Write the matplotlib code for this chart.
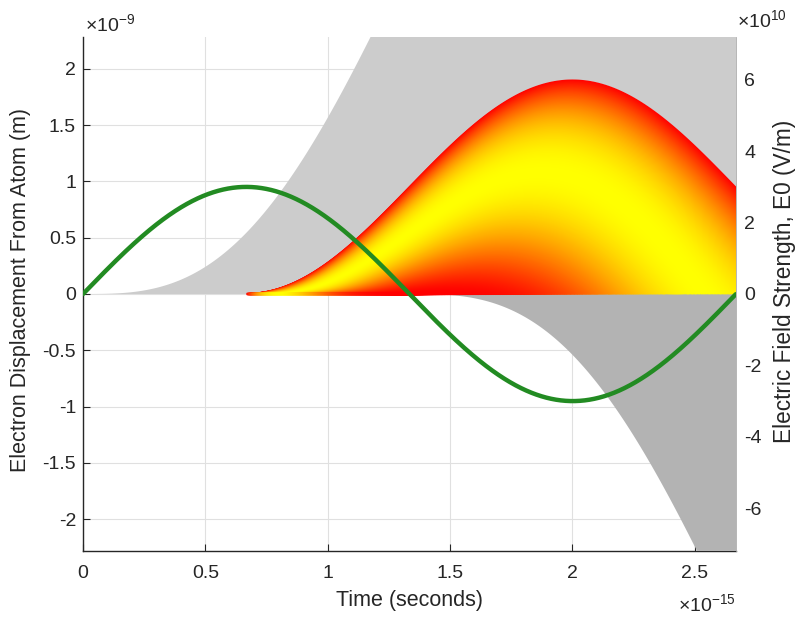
import numpy as np
import matplotlib
matplotlib.use("Agg")
import matplotlib.pyplot as plt
from matplotlib.collections import LineCollection
from matplotlib.ticker import FuncFormatter

plt.rcParams['font.family'] = ['Liberation Sans', 'DejaVu Sans']
plt.rcParams['mathtext.fontset'] = 'custom'
plt.rcParams['mathtext.rm'] = 'Liberation Sans'
plt.rcParams['axes.unicode_minus'] = False

# laser / electron parameters
wavelength = 800e-9      # m
E0 = 3e10                # V/m
q = 1.602e-19
me = 9.109e-31
c = 2.998e8

omega = 2*np.pi*c/wavelength
T = 2*np.pi/omega
A = q*E0/(me*omega**2)   # quiver amplitude

xticks = [0, 0.5e-15, 1e-15, 1.5e-15, 2e-15, 2.5e-15]
yticks_left = np.arange(-2, 2.01, 0.5)*1e-9
yticks_right = np.arange(-6, 6.01, 2)*1e10

t = np.linspace(0, 2*T, 6001)
dt = t[1] - t[0]


def path(t0):
    # classical electron trajectory, born at rest at time t0
    x = A*(np.sin(omega*t0) - np.sin(omega*t) + omega*(t - t0)*np.cos(omega*t0))
    x[t < t0] = np.nan
    return x


def speed(t0, tt):
    return A*omega*(np.cos(omega*t0) - np.cos(omega*tt))


TXT = '#262626'
fig = plt.figure(figsize=(7.96, 6.19), dpi=100)
ax = fig.add_axes([83/796, 1-551/619, 653/796, 514/619])
ax.set_axisbelow(True)

# electrons that never come back
lo = np.where(t < T/4, 0, path(T/4))
ax.fill_between(t, lo, path(0), color='#cccccc', lw=0, zorder=3)
x_half = path(T/2)
ax.fill_between(t, x_half, 0, where=t >= T/2, color='#b3b3b3', lw=0, zorder=3)

# returning electrons, coloured by kinetic energy at return
births = np.linspace(T/4, T/2, 700)[1:-1]
segs, ke = [], []
for t0 in births:
    x = path(t0)
    m = t > t0 + 0.5*dt
    ts, xs = t[m], x[m]
    neg = np.nonzero(xs < 0)[0]
    k = neg[0] if len(neg) else len(xs) - 1
    tr = ts[k]
    keep = ts[:k] <= T*1.01
    seg = np.column_stack([np.r_[t0, ts[:k][keep]], np.r_[0, xs[:k][keep]]])
    segs.append(seg)
    ke.append(0.5*me*speed(t0, tr)**2)
ke = np.array(ke)
lc = LineCollection(segs, colors=plt.cm.autumn(ke/ke.max()), linewidths=1.6, zorder=4)
ax.add_collection(lc)

ax.set_xlim(0, T)
ax.set_ylim(-2.4*A, 2.4*A)
ax.set_xticks(xticks)
ax.set_yticks(yticks_left)
ax.xaxis.set_major_formatter(FuncFormatter(lambda v, _: f'{v/1e-15:g}'))
ax.yaxis.set_major_formatter(FuncFormatter(lambda v, _: f'{v/1e-9:g}'))
ax.grid(True, color='#e0e0e0', lw=0.8)
ax.tick_params(direction='in', length=5, width=0.8, color=TXT, labelcolor=TXT, labelsize=14)
ax.tick_params(axis='x', pad=10)
ax.tick_params(axis='y', pad=5)
for s in ['top', 'right']:
    ax.spines[s].set_visible(False)
for s in ['left', 'bottom']:
    ax.spines[s].set_color(TXT)
    ax.spines[s].set_linewidth(1.0)
    ax.spines[s].set_zorder(2.5)
ax.set_xlabel('Time (seconds)', fontsize=15.5, color=TXT, labelpad=6)

# driving field on the right axis
ax2 = ax.twinx()
tf = t[t <= T]
ax2.plot(tf, E0*np.sin(omega*tf), color='#228b22', lw=3.2, solid_capstyle='round')
ax2.set_ylim(-2.4*E0, 2.4*E0)
ax2.set_yticks(yticks_right)
ax2.yaxis.set_major_formatter(FuncFormatter(lambda v, _: f'{v/1e10:g}'))
ax2.tick_params(direction='in', length=0, labelcolor=TXT, labelsize=14, pad=6)
for s in ['top', 'left', 'bottom']:
    ax2.spines[s].set_visible(False)
ax2.spines['right'].set_color('#aaaaaa')
ax2.spines['right'].set_linewidth(0.6)

# axis titles
fig.text(21/796, 1-290/619, 'Electron Displacement From Atom (m)', fontsize=15.5,
         color=TXT, rotation=90, ha='center', va='center')
fig.text(784/796, 1-281/619, 'Electric Field Strength, E0 (V/m)', fontsize=16.3,
         color=TXT, rotation=90, ha='center', va='center')

# axis multipliers
fig.text(85/796, 1-32/619, r'$\times$10$^{-9}$', fontsize=14, color=TXT, va='baseline')
fig.text(737/796, 1-28/619, r'$\times$10$^{10}$', fontsize=14, color=TXT, va='baseline')
fig.text(736/796, 1-612/619, r'$\times$10$^{-15}$', fontsize=14, color=TXT, va='baseline', ha='right')

fig.savefig('out.png', dpi=100)
